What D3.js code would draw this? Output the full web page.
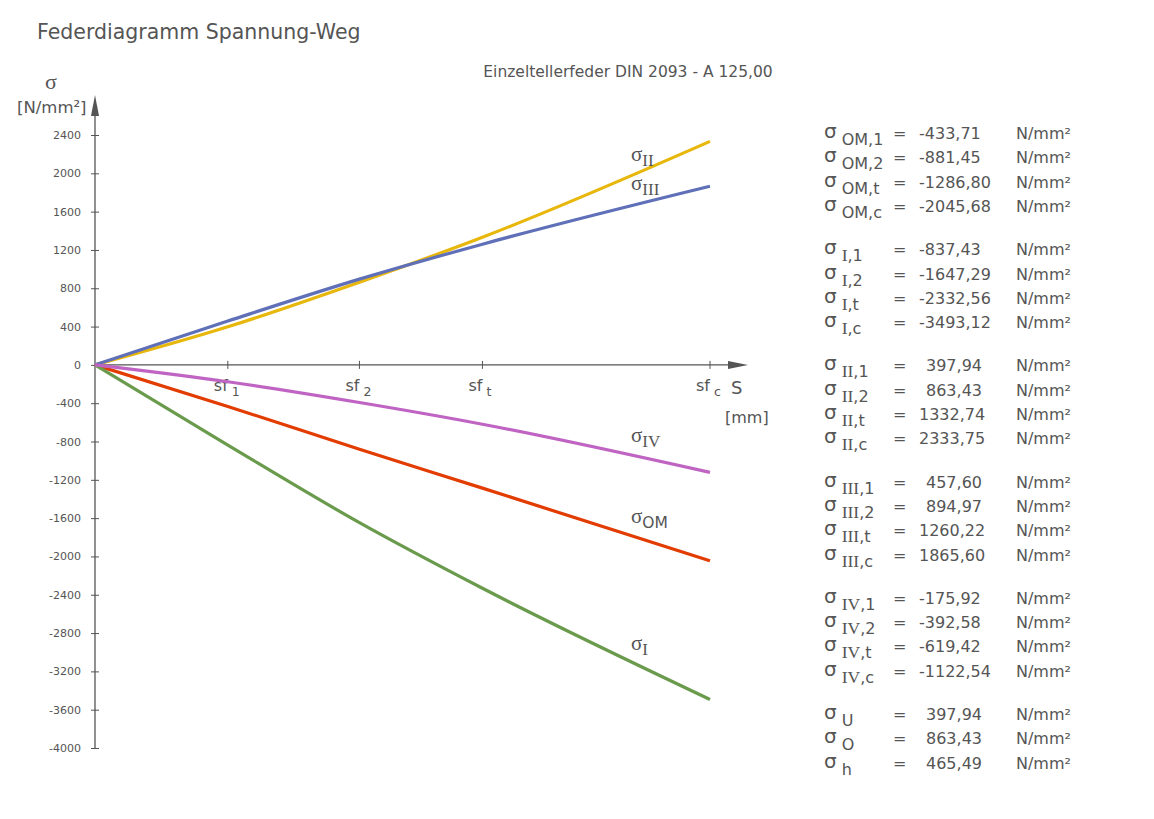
<!DOCTYPE html>
<html>
<head>
<meta charset="utf-8">
<script src="https://cdn.jsdelivr.net/npm/d3@7"></script>
<style>
body { margin: 0; background: #fff; }
text { font-family: "DejaVu Sans", Verdana, sans-serif; fill: #555; }
.serif { font-family: "Liberation Serif", "DejaVu Serif", serif; }
</style>
</head>
<body>
<div id="chart"></div>
<script>
// relative spring travel at the marked points (0, sf1, sf2, sft, sfc)
var travel = [0, 0.216, 0.43, 0.63, 1.0];
var travelLabels = ["1", "2", "t", "c"];

var seriesNames = ["OM", "I", "II", "III", "IV"];
var seriesColors = ["#e23c00", "#6a9a4c", "#e8b70c", "#5f70b8", "#c064c4"];
var sigmaOM = [-433.71, -881.45, -1286.80, -2045.68];
var sigmaI = [-837.43, -1647.29, -2332.56, -3493.12];
var sigmaII = [397.94, 863.43, 1332.74, 2333.75];
var sigmaIII = [457.60, 894.97, 1260.22, 1865.60];
var sigmaIV = [-175.92, -392.58, -619.42, -1122.54];

var extraNames = ["U", "O", "h"];
var extraValues = [397.94, 863.43, 465.49];

var yTicks = [2400, 2000, 1600, 1200, 800, 400, 0, -400, -800, -1200, -1600, -2000, -2400, -2800, -3200, -3600, -4000];

function init() {
    var width = 1154, height = 819;
    var seriesValues = [sigmaOM, sigmaI, sigmaII, sigmaIII, sigmaIV];

    var svg = d3.select("#chart")
        .append("svg")
        .attr("width", width)
        .attr("height", height);

    var x = d3.scaleLinear().domain([0, 1]).range([95, 710]);
    var y = d3.scaleLinear().domain([-4000, 2400]).range([748, 135]);

    function fmt(v) { return v.toFixed(2).replace(".", ","); }

    // titles
    svg.append("text")
        .attr("x", 37).attr("y", 39)
        .style("font-size", "20.5px")
        .text("Federdiagramm Spannung-Weg");

    svg.append("text")
        .attr("x", 628).attr("y", 77)
        .attr("text-anchor", "middle")
        .style("font-size", "15.5px")
        .text("Einzeltellerfeder DIN 2093 - A 125,00");

    // y axis
    var yAxis = svg.append("g")
        .attr("transform", "translate(" + x(0) + ",0)")
        .call(d3.axisLeft(y).tickValues(yTicks).tickFormat(function (d) { return String(d); }).tickSize(4).tickSizeOuter(0));
    yAxis.select(".domain").remove();
    yAxis.selectAll(".tick line").attr("x2", 4).attr("x1", -4).attr("stroke", "#555");
    yAxis.selectAll(".tick text")
        .attr("x", -14)
        .style("font-size", "11px")
        .style("font-family", "DejaVu Sans, sans-serif")
        .attr("fill", "#555");

    svg.append("line")
        .attr("x1", x(0)).attr("x2", x(0))
        .attr("y1", y(-4000)).attr("y2", 110)
        .attr("stroke", "#555").attr("stroke-width", 1.3);
    svg.append("path")
        .attr("d", "M" + x(0) + ",95 L" + (x(0) - 4) + ",116 L" + (x(0) + 4) + ",116 Z")
        .attr("fill", "#555");

    // x axis
    svg.append("line")
        .attr("x1", x(0)).attr("x2", 735)
        .attr("y1", y(0)).attr("y2", y(0))
        .attr("stroke", "#555").attr("stroke-width", 1.3);
    svg.append("path")
        .attr("d", "M748," + y(0) + " L728," + (y(0) - 4) + " L728," + (y(0) + 4) + " Z")
        .attr("fill", "#555");

    var xt = svg.append("g").selectAll("g")
        .data(travel.slice(1))
        .enter()
        .append("g")
        .attr("transform", function (d) { return "translate(" + x(d) + "," + y(0) + ")"; });
    xt.append("line")
        .attr("y1", -4).attr("y2", 4)
        .attr("stroke", "#555");
    var xl = xt.append("text")
        .attr("x", -14).attr("y", 26)
        .style("font-size", "16px");
    xl.append("tspan").text("sf");
    xl.append("tspan")
        .attr("dx", 4).attr("dy", 5)
        .style("font-size", "12.5px")
        .text(function (d, i) { return travelLabels[i]; });

    svg.append("text").attr("x", 731).attr("y", 394).style("font-size", "18px").text("S");
    svg.append("text").attr("x", 725).attr("y", 423).style("font-size", "16px").text("[mm]");
    svg.append("text").attr("x", 45).attr("y", 89).attr("class", "serif").style("font-size", "22px").text("σ");
    svg.append("text").attr("x", 17).attr("y", 113).style("font-size", "16.5px").text("[N/mm²]");

    // lines
    var line = d3.line()
        .curve(d3.curveMonotoneX)
        .x(function (d) { return x(d[0]); })
        .y(function (d) { return y(d[1]); });

    svg.append("g").selectAll("path")
        .data(seriesValues)
        .enter()
        .append("path")
        .attr("d", function (d) { return line(travel.map(function (t, i) { return [t, i == 0 ? 0 : d[i - 1]]; })); })
        .attr("fill", "none")
        .attr("stroke", function (d, i) { return seriesColors[i]; })
        .attr("stroke-width", 3.2)
        .attr("stroke-linejoin", "round");

    // line labels
    var labelPos = [
        { name: "OM", y: 523 }, { name: "I", y: 650 }, { name: "II", y: 161 },
        { name: "III", y: 190 }, { name: "IV", y: 442 }
    ];
    var ll = svg.append("g").selectAll("text")
        .data(labelPos)
        .enter()
        .append("text")
        .attr("x", 631)
        .attr("y", function (d) { return d.y; })
        .style("font-size", "21px");
    ll.append("tspan").attr("class", "serif").text("σ");
    ll.append("tspan")
        .attr("class", function (d) { return d.name == "OM" ? null : "serif"; })
        .attr("dy", 5)
        .style("font-size", d => d.name == "OM" ? "15.5px" : "17px")
        .text(function (d) { return d.name; });

    // value table
    var rows = [];
    seriesNames.forEach(function (n, g) {
        seriesValues[g].forEach(function (v, i) {
            rows.push({ name: n, sub: travelLabels[i], value: v, top: 133 + g * 116.2 + i * 24.3 });
        });
    });
    extraNames.forEach(function (n, i) {
        rows.push({ name: n, sub: null, value: extraValues[i], top: 133 + 5 * 116.2 + i * 24.3 });
    });

    var tr = svg.append("g").selectAll("g")
        .data(rows)
        .enter()
        .append("g")
        .attr("transform", function (d) { return "translate(0," + d.top + ")"; });

    var sig = tr.append("text")
        .attr("x", 824).attr("y", 5)
        .style("font-size", "20px");
    sig.append("tspan").text("σ");
    var roman = function (n) { return n != "OM" && n != "U" && n != "O" && n != "h"; };
    sig.append("tspan")
        .attr("dx", 5).attr("dy", 7)
        .attr("class", function (d) { return roman(d.name) ? "serif" : null; })
        .style("font-size", function (d) { return roman(d.name) ? "17.5px" : "16px"; })
        .text(function (d) { return d.name; });
    sig.append("tspan")
        .style("font-size", "16px")
        .text(function (d) { return d.sub ? "," + d.sub : ""; });

    tr.append("text")
        .attr("x", 893).attr("y", 6)
        .style("font-size", "16px")
        .text("=");
    tr.append("text")
        .attr("x", function (d) { return (d.value < 0 || d.value >= 1000) ? 919 : 926; })
        .attr("y", 6)
        .style("font-size", "16px")
        .text(function (d) { return fmt(d.value); });
    tr.append("text")
        .attr("x", 1016).attr("y", 6)
        .style("font-size", "16px")
        .text("N/mm²");
}

window.onload = init;
</script>
</body>
</html>
